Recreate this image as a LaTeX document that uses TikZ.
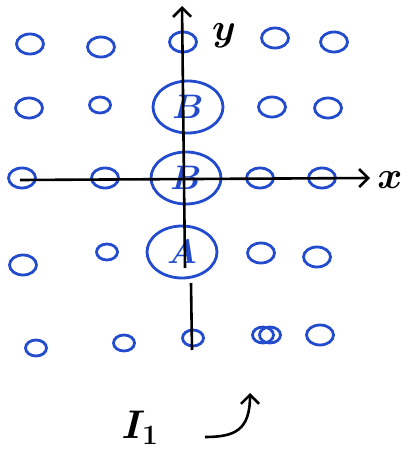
\documentclass[tikz,border=0pt]{standalone}
\usepackage{fix-cm}
\usetikzlibrary{shapes.geometric, arrows.meta}
\definecolor{penblue}{RGB}{35,75,205}
\begin{document}
\begin{tikzpicture}[x=1pt, y=-1pt,
    dot/.style={draw=penblue, line width=2.8pt, ellipse, inner sep=0pt, minimum width=27pt, minimum height=20pt},
    smalldot/.style={dot, minimum width=21pt, minimum height=16pt},
    site/.style={draw=penblue, line width=2.8pt, ellipse, inner sep=0pt, minimum width=70pt, minimum height=52pt,
      text=penblue, font=\fontsize{34}{36}\selectfont\boldmath},
    axis/.style={line width=2.6pt, -{Straight Barb[length=9pt, width=18pt]}}]
  \useasboundingbox (0,0) rectangle (412,457);
  % small lattice points
  \foreach \px/\py [count=\i] in {30/44, 101/47, 183/42, 275/38, 334/42,
      29/108, 272/107, 328/108,
      22/178, 105/178, 260/178, 322/178,
      23/265, 261/253, 317/257,
      320/335}
    \node[dot] (d\i) at (\px,\py) {};
  \foreach \px/\py [count=\i] in {100/105, 107/252, 36/348, 124/343, 193/338, 263/335, 270/335}
    \node[smalldot] (s\i) at (\px,\py) {};
  % large sites
  \node[site] (b1) at (188,107) {$B$};
  \node[site] (b2) at (186,178) {$B$};
  \node[site] (a) at (182,252) {$A$};
  % axes
  \coordinate (xs) at (20,180);
  \coordinate (xe) at (370,178);
  \coordinate (ys) at (192,350);
  \coordinate (yg) at (191,283);
  \coordinate (yh) at (185,268);
  \coordinate (ye) at (182,6);
  \draw[axis] (xs) -- (xe);
  \draw[axis] (yh) -- (ye);
  \draw[line width=2.6pt] (ys) -- (yg);
  \node[font=\fontsize{38}{40}\selectfont\boldmath] (xl) at (390,180) {$x$};
  \node[font=\fontsize{38}{40}\selectfont\boldmath] (yl) at (224,36) {$y$};
  % label
  \node[font=\fontsize{40}{42}\selectfont\boldmath] (lbl) at (140,428) {$I_1$};
  \coordinate (cs) at (205,437);
  \coordinate (ce) at (250,393);
  \draw[axis] (cs) .. controls (235,437) and (250,430) .. (ce);
\end{tikzpicture}
\end{document}
